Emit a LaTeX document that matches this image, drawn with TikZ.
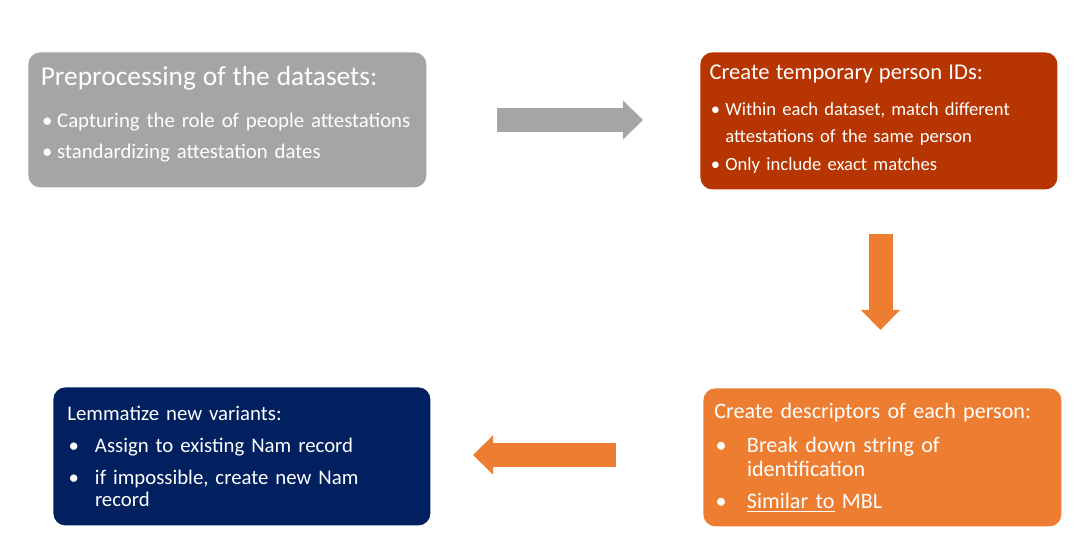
\documentclass[tikz,border=0pt]{standalone}
\usepackage{fontspec}
\setmainfont{Carlito}
\usepackage{xcolor}
\usepackage{tikz}
\usetikzlibrary{positioning}
\usetikzlibrary{arrows.meta}
\pgfdeclarelayer{nodelayer}
\pgfdeclarelayer{edgelayer}
\pgfsetlayers{nodelayer,edgelayer,main}
\definecolor{stepgray}{HTML}{A5A5A5}
\definecolor{steprust}{HTML}{B73500}
\definecolor{steporange}{HTML}{ED7D31}
\definecolor{stepnavy}{HTML}{002060}
\newcommand{\pbul}[1]{\makebox[#1][l]{\hspace{0.6pt}\textbullet}}
\tikzset{
    none/.style = {inner sep=0pt},
    stepbox/.style = {anchor=north west, rounded corners=6pt, text=white, align=left, inner ysep=0pt},
    blockarrow/.style = {line width=12pt, -{Triangle[length=10pt, width=19.5pt, line width'=0pt]}}
}

\begin{document}
\begin{tikzpicture}[x=0.5pt, y=-0.5pt]
    % Keep the page at the size of the slide
    \useasboundingbox (0, 0) rectangle (1078, 544);

    \begin{pgfonlayer}{nodelayer}
        \node [style=stepbox, fill=stepgray, inner xsep=6.2pt, text width=186.6pt, text height=16.5pt, text depth=51pt, font=\fontsize{10.4}{15.5}\selectfont] (0) at (28, 52) {{\fontsize{13.7}{16}\selectfont Preprocessing of the datasets:}\\[5.5pt]
            \pbul{8.2pt}\mbox{Capturing the role of people attestations}\\
            \pbul{8.2pt}\mbox{standardizing attestation dates}};
        \node [style=stepbox, fill=steprust, inner xsep=4.6pt, text width=169.3pt, text height=13.65pt, text depth=54.85pt, font=\fontsize{9.3}{13.35}\selectfont] (1) at (700, 52) {{\fontsize{11.3}{13}\selectfont Create temporary person IDs:}\\[4.5pt]
            \pbul{7.9pt}\mbox{Within each dataset, match different}\\
            \hspace*{7.9pt}attestations of the same person\\[0.8pt]
            \pbul{7.9pt}Only include exact matches};
        \node [style=stepbox, fill=steporange, inner xsep=5.5pt, text width=168pt, text height=15.15pt, text depth=53.85pt, font=\fontsize{11.05}{12.15}\selectfont] (2) at (703, 388) {\mbox{Create descriptors of each person:}\\[4.55pt]
            \pbul{16.3pt}Break down string of\\
            \hspace*{16.3pt}identification\\[4pt]
            \pbul{16.3pt}\underline{Similar to} MBL};
        \node [style=stepbox, fill=stepnavy, inner xsep=7pt, text width=174.5pt, text height=16.5pt, text depth=52.5pt, font=\fontsize{10.4}{11.2}\selectfont] (3) at (53, 387) {Lemmatize new variants:\\[4.8pt]
            \pbul{13.8pt}\mbox{Assign to existing Nam record}\\[4.8pt]
            \pbul{13.8pt}\mbox{if impossible, create new Nam}\\
            \hspace*{13.8pt}record};
        \node [style=none] (4) at (497, 120) {};
        \node [style=none] (5) at (643, 120) {};
        \node [style=none] (6) at (880.5, 234) {};
        \node [style=none] (7) at (880.5, 330) {};
        \node [style=none] (8) at (616, 455) {};
        \node [style=none] (9) at (473, 455) {};
    \end{pgfonlayer}
    \begin{pgfonlayer}{edgelayer}
        \draw [style=blockarrow, stepgray] (4.center) to (5.center);
        \draw [style=blockarrow, steporange] (6.center) to (7.center);
        \draw [style=blockarrow, steporange] (8.center) to (9.center);
    \end{pgfonlayer}
\end{tikzpicture}
\end{document}
